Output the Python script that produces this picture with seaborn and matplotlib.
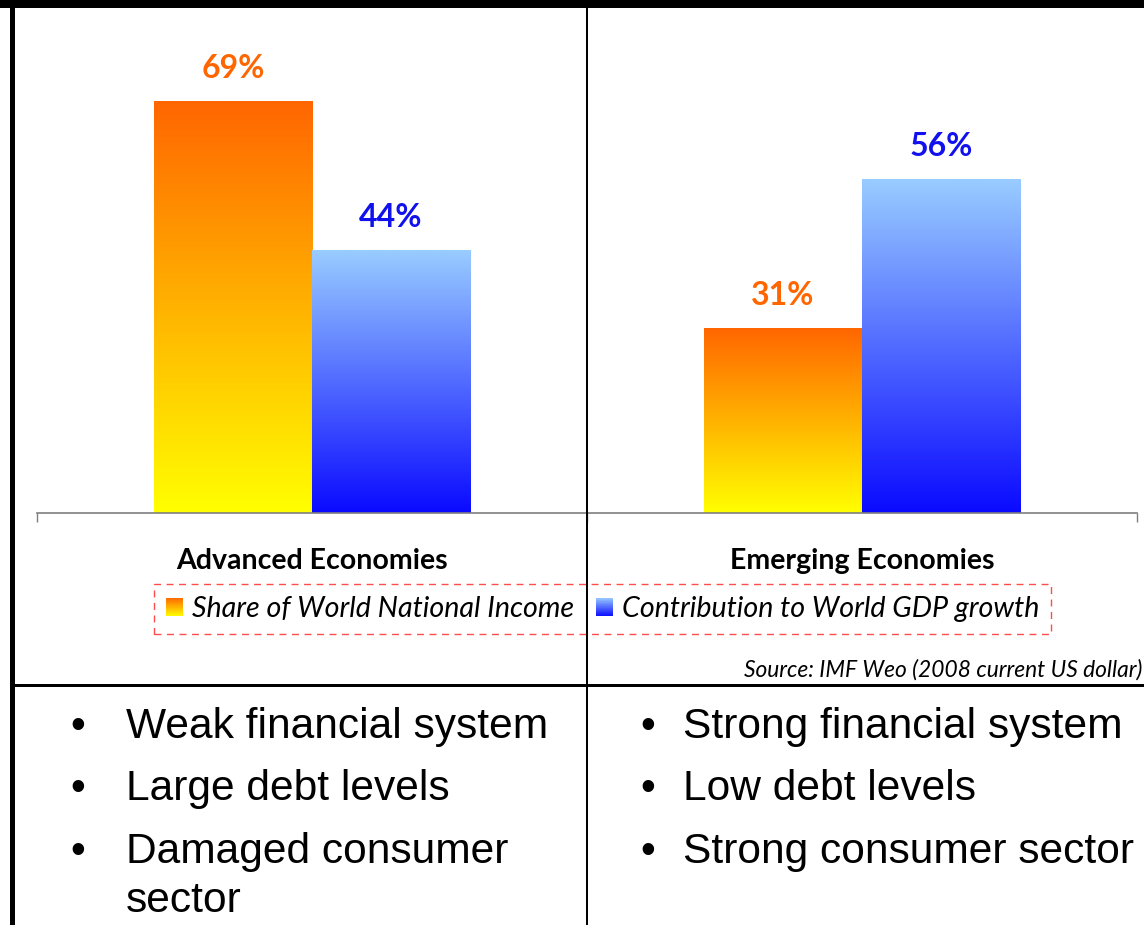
import numpy as np
import pandas as pd
import matplotlib
matplotlib.use("Agg")
import matplotlib.pyplot as plt
import seaborn as sns
from matplotlib.patches import Rectangle, Patch
from matplotlib.lines import Line2D
from matplotlib.legend_handler import HandlerBase
from matplotlib.colors import to_rgb

# ---------------- data ----------------
categories = ["Advanced Economies", "Emerging Economies"]
series = ["Share of World National Income", "Contribution to World GDP growth"]
share_income = [69, 31]
gdp_contribution = [44, 56]
bullets_left = ["Weak financial system", "Large debt levels", "Damaged consumer", "sector"]
bullets_left_marker = [True, True, True, False]
bullets_right = ["Strong financial system", "Low debt levels", "Strong consumer sector"]
source_text = "Source: IMF Weo (2008 current US dollar)"

# ---------------- style ----------------
W, H = 1144, 925
DPI = 100
sns.set_theme(style="white")
plt.rcParams["font.family"] = ["Lato", "DejaVu Sans"]
plt.rcParams["text.color"] = "black"
plt.rcParams["xtick.color"] = "black"

ORANGE_TOP, ORANGE_BOT = "#FF6600", "#FFFF00"
BLUE_TOP, BLUE_BOT = "#99CCFF", "#0A0AFF"
grad = {series[0]: (ORANGE_TOP, ORANGE_BOT), series[1]: (BLUE_TOP, BLUE_BOT)}
placeholder = {series[0]: "#FF8800", series[1]: "#3366FF"}
label_color = {series[0]: "#FF6600", series[1]: "#1111EE"}

df = pd.DataFrame({
    "category": categories * 2,
    "series": [series[0]] * 2 + [series[1]] * 2,
    "value": share_income + gdp_contribution,
})

fig = plt.figure(figsize=(W / DPI, H / DPI), dpi=DPI)
fig.patch.set_facecolor("white")

def fx(px):
    return px / W

def fy(py):
    return 1 - py / H

ax_left, ax_right, ax_bottom, ax_top = 37, 1137, 513, 30
ax = fig.add_axes([fx(ax_left), fy(ax_bottom), fx(ax_right - ax_left), (ax_bottom - ax_top) / H])
px_per_unit = 5.96
ymax = (ax_bottom - ax_top) / px_per_unit

sns.barplot(data=df, x="category", y="value", hue="series", hue_order=series,
            order=categories, palette=placeholder, width=0.575, gap=0,
            linewidth=0, legend=False, ax=ax)

ax.set_xlim(-0.5, 1.5)
ax.set_ylim(0, ymax)

def gradient_image(top, bot, n=256):
    t = np.array(to_rgb(top))
    b = np.array(to_rgb(bot))
    f = np.linspace(0, 1, n)[:, None]
    img = b * (1 - f) + t * f  # row 0 = bottom
    return img[:, None, :]

bars = [p for p in ax.patches if isinstance(p, Rectangle) and p.get_height() > 0]
for p in bars:
    fc = p.get_facecolor()[:3]
    sname = min(series, key=lambda s: np.sum((np.array(to_rgb(placeholder[s])) - np.array(fc)) ** 2))
    x0, y0, w, h = p.get_x(), p.get_y(), p.get_width(), p.get_height()
    top, bot = grad[sname]
    ax.imshow(gradient_image(top, bot), extent=[x0, x0 + w, y0, y0 + h],
              origin="lower", aspect="auto", zorder=2, interpolation="bilinear")
    p.set_visible(False)
    ax.annotate(f"{h:.0f}%", xy=(x0 + w / 2, y0 + h), xytext=(0, 17),
                textcoords="offset points", ha="center", va="baseline",
                fontsize=23, fontweight="bold", color=label_color[sname], zorder=5)

ax.set_xlim(-0.5, 1.5)
ax.set_ylim(0, ymax)
ax.set_xlabel("")
ax.set_ylabel("")
ax.set_yticks([])
for s in ["left", "right", "top"]:
    ax.spines[s].set_visible(False)
ax.spines["bottom"].set_color("#7F7F7F")
ax.spines["bottom"].set_linewidth(1.2)
ax.set_xticks([0, 1])
ax.set_xticklabels(categories, fontsize=20.5, fontweight="bold", color="black")
ax.tick_params(axis="x", which="major", length=0, pad=25)
ax.set_xticks([-0.5, 0.5, 1.5], minor=True)
ax.tick_params(axis="x", which="minor", length=6.5, width=1.0, color="#7F7F7F", direction="out", bottom=True)
ax.set_facecolor("none")
ax.grid(False)

# ---------------- legend ----------------
class GradHandler(HandlerBase):
    def __init__(self, top, bot, n=30):
        super().__init__()
        self.top = np.array(to_rgb(top))
        self.bot = np.array(to_rgb(bot))
        self.n = n

    def create_artists(self, legend, orig_handle, xdescent, ydescent, width, height, fontsize, trans):
        arts = []
        for i in range(self.n):
            f = (i + 0.5) / self.n
            c = self.bot * (1 - f) + self.top * f
            r = Rectangle((-xdescent, -ydescent + height * i / self.n), width, height / self.n * 1.08,
                          facecolor=c, edgecolor="none", transform=trans)
            arts.append(r)
        return arts

h1 = Patch(label=series[0])
h2 = Patch(label=series[1])
leg = fig.legend(handles=[h1, h2], labels=series, ncol=2, loc="center",
                 bbox_to_anchor=(fx((154 + 1051) / 2), fy(609)),
                 handler_map={h1: GradHandler(ORANGE_TOP, ORANGE_BOT), h2: GradHandler(BLUE_TOP, BLUE_BOT)},
                 prop={"family": ["Lato", "DejaVu Sans"], "style": "italic", "size": 20.6},
                 handlelength=0.62, handleheight=0.62, handletextpad=0.3, columnspacing=0.75,
                 borderpad=0.42, frameon=True, fancybox=False)
for t in leg.get_texts():
    t.set_color("black")
fr = leg.get_frame()
fr.set_edgecolor("#FF2020")
fr.set_linestyle((0, (5, 4)))
fr.set_linewidth(1.0)
fr.set_facecolor("none")

# source
fig.text(fx(1142), fy(677), source_text, ha="right", va="baseline",
         fontsize=16.4, style="italic", color="black")

# ---------------- frame lines ----------------
lw_px = lambda px: px * 72 / DPI
fig.add_artist(Rectangle((0, fy(8)), 1, 8 / H, transform=fig.transFigure, facecolor="black", edgecolor="none", zorder=10))
fig.add_artist(Line2D([fx(12), fx(12)], [0, 1], transform=fig.transFigure, color="black", lw=lw_px(5), zorder=10))
fig.add_artist(Line2D([fx(587), fx(587)], [0, 1], transform=fig.transFigure, color="black", lw=lw_px(2), zorder=10))
fig.add_artist(Line2D([fx(12), 1], [fy(685), fy(685)], transform=fig.transFigure, color="black", lw=lw_px(3), zorder=10))

# ---------------- bullets ----------------
bfont = ["Liberation Sans", "DejaVu Sans"]
bsize = 30.6
rows_left = [738, 800, 863, 912]
for i, t in enumerate(bullets_left):
    if bullets_left_marker[i]:
        fig.text(fx(70), fy(rows_left[i]), "\u2022", ha="left", va="baseline", fontsize=bsize, family=bfont, color="black")
    fig.text(fx(126), fy(rows_left[i]), t, ha="left", va="baseline", fontsize=bsize, family=bfont, color="black")
rows_right = [738, 800, 863]
for i, t in enumerate(bullets_right):
    fig.text(fx(640), fy(rows_right[i]), "\u2022", ha="left", va="baseline", fontsize=bsize, family=bfont, color="black")
    fig.text(fx(683), fy(rows_right[i]), t, ha="left", va="baseline", fontsize=bsize, family=bfont, color="black")

fig.savefig("out.png", dpi=DPI, facecolor="white")
